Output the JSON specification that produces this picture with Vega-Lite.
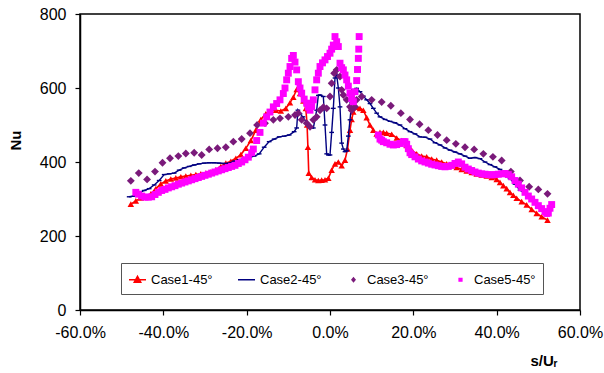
{
  "$schema": "https://vega.github.io/schema/vega-lite/v6.json",
  "width": 500,
  "height": 296,
  "autosize": "none",
  "padding": {"left": 80, "top": 14, "right": 24, "bottom": 63},
  "background": "white",
  "config": {
    "view": {"stroke": "#000000", "strokeWidth": 1.5},
    "font": "Liberation Sans",
    "axis": {
      "grid": false,
      "domainColor": "#000000",
      "domainWidth": 1.5,
      "tickColor": "#000000",
      "tickWidth": 1.2,
      "tickSize": 5,
      "labelFlush": false,
      "labelOverlap": false,
      "labelFont": "Liberation Sans",
      "labelFontSize": 16,
      "labelColor": "#000000",
      "titleFont": "Liberation Sans",
      "titleFontSize": 15,
      "titleFontWeight": "bold",
      "titleColor": "#000000"
    }
  },
  "datasets": {
    "d": [
      {"s":"Case1-45°","x":-47.8,"y":286},{"s":"Case1-45°","x":-46.6,"y":295},{"s":"Case1-45°","x":-45.4,"y":303},{"s":"Case1-45°","x":-44.2,"y":306},{"s":"Case1-45°","x":-43,"y":314},{"s":"Case1-45°","x":-41.8,"y":328},{"s":"Case1-45°","x":-40.6,"y":341},{"s":"Case1-45°","x":-39.4,"y":349},{"s":"Case1-45°","x":-38.2,"y":354},{"s":"Case1-45°","x":-37,"y":357},{"s":"Case1-45°","x":-35.8,"y":360},{"s":"Case1-45°","x":-34.6,"y":362},{"s":"Case1-45°","x":-33.4,"y":364},{"s":"Case1-45°","x":-32.2,"y":366},{"s":"Case1-45°","x":-31,"y":368},{"s":"Case1-45°","x":-29.8,"y":370},{"s":"Case1-45°","x":-28.6,"y":373},{"s":"Case1-45°","x":-27.4,"y":379},{"s":"Case1-45°","x":-26.2,"y":388},{"s":"Case1-45°","x":-25,"y":397},{"s":"Case1-45°","x":-23.8,"y":402},{"s":"Case1-45°","x":-22.6,"y":410},{"s":"Case1-45°","x":-21.4,"y":420},{"s":"Case1-45°","x":-20.2,"y":437},{"s":"Case1-45°","x":-19,"y":458},{"s":"Case1-45°","x":-17.8,"y":486},{"s":"Case1-45°","x":-16.6,"y":515},{"s":"Case1-45°","x":-15.4,"y":530},{"s":"Case1-45°","x":-14.2,"y":540},{"s":"Case1-45°","x":-13,"y":540},{"s":"Case1-45°","x":-11.8,"y":538},{"s":"Case1-45°","x":-10.6,"y":545},{"s":"Case1-45°","x":-9.6,"y":560},{"s":"Case1-45°","x":-8.8,"y":575},{"s":"Case1-45°","x":-8,"y":596},{"s":"Case1-45°","x":-7.2,"y":585},{"s":"Case1-45°","x":-6.4,"y":565},{"s":"Case1-45°","x":-5.8,"y":545},{"s":"Case1-45°","x":-5.5,"y":500},{"s":"Case1-45°","x":-5.3,"y":440},{"s":"Case1-45°","x":-5.1,"y":370},{"s":"Case1-45°","x":-4.4,"y":358},{"s":"Case1-45°","x":-3.6,"y":352},{"s":"Case1-45°","x":-2.8,"y":350},{"s":"Case1-45°","x":-2,"y":351},{"s":"Case1-45°","x":-1.2,"y":352},{"s":"Case1-45°","x":-0.4,"y":356},{"s":"Case1-45°","x":0.4,"y":378},{"s":"Case1-45°","x":1.2,"y":395},{"s":"Case1-45°","x":2,"y":400},{"s":"Case1-45°","x":2.8,"y":390},{"s":"Case1-45°","x":3.6,"y":405},{"s":"Case1-45°","x":4.2,"y":435},{"s":"Case1-45°","x":4.8,"y":486},{"s":"Case1-45°","x":5.2,"y":515},{"s":"Case1-45°","x":5.6,"y":535},{"s":"Case1-45°","x":6.4,"y":548},{"s":"Case1-45°","x":7.2,"y":545},{"s":"Case1-45°","x":8,"y":540},{"s":"Case1-45°","x":8.8,"y":520},{"s":"Case1-45°","x":9.6,"y":500},{"s":"Case1-45°","x":10.4,"y":486},{"s":"Case1-45°","x":11.2,"y":476},{"s":"Case1-45°","x":12,"y":480},{"s":"Case1-45°","x":12.8,"y":480},{"s":"Case1-45°","x":13.6,"y":478},{"s":"Case1-45°","x":14.8,"y":475},{"s":"Case1-45°","x":16,"y":465},{"s":"Case1-45°","x":17.2,"y":458},{"s":"Case1-45°","x":18.4,"y":445},{"s":"Case1-45°","x":19.6,"y":432},{"s":"Case1-45°","x":20.8,"y":422},{"s":"Case1-45°","x":22,"y":416},{"s":"Case1-45°","x":23.2,"y":414},{"s":"Case1-45°","x":24.4,"y":408},{"s":"Case1-45°","x":25.6,"y":405},{"s":"Case1-45°","x":26.8,"y":400},{"s":"Case1-45°","x":28,"y":395},{"s":"Case1-45°","x":29.2,"y":390},{"s":"Case1-45°","x":30.4,"y":385},{"s":"Case1-45°","x":31.6,"y":380},{"s":"Case1-45°","x":32.8,"y":376},{"s":"Case1-45°","x":34,"y":372},{"s":"Case1-45°","x":35.2,"y":368},{"s":"Case1-45°","x":36.4,"y":365},{"s":"Case1-45°","x":37.6,"y":362},{"s":"Case1-45°","x":38.8,"y":358},{"s":"Case1-45°","x":40,"y":353},{"s":"Case1-45°","x":40.8,"y":345},{"s":"Case1-45°","x":41.6,"y":336},{"s":"Case1-45°","x":42.4,"y":328},{"s":"Case1-45°","x":43.2,"y":318},{"s":"Case1-45°","x":44,"y":310},{"s":"Case1-45°","x":44.8,"y":302},{"s":"Case1-45°","x":46,"y":293},{"s":"Case1-45°","x":47.2,"y":284},{"s":"Case1-45°","x":48.4,"y":272},{"s":"Case1-45°","x":49.6,"y":261},{"s":"Case1-45°","x":50.8,"y":252},{"s":"Case1-45°","x":52.2,"y":243},

      {"s":"Case2-45°","x":-48.2,"y":306},{"s":"Case2-45°","x":-47,"y":308},{"s":"Case2-45°","x":-45.8,"y":316},{"s":"Case2-45°","x":-44.6,"y":323},{"s":"Case2-45°","x":-43.4,"y":328},{"s":"Case2-45°","x":-42.2,"y":338},{"s":"Case2-45°","x":-41,"y":350},{"s":"Case2-45°","x":-39.8,"y":366},{"s":"Case2-45°","x":-38.6,"y":368},{"s":"Case2-45°","x":-37.4,"y":370},{"s":"Case2-45°","x":-36.2,"y":378},{"s":"Case2-45°","x":-35,"y":384},{"s":"Case2-45°","x":-33.8,"y":388},{"s":"Case2-45°","x":-32.6,"y":392},{"s":"Case2-45°","x":-31.4,"y":395},{"s":"Case2-45°","x":-30.2,"y":397},{"s":"Case2-45°","x":-29,"y":398},{"s":"Case2-45°","x":-27.8,"y":398},{"s":"Case2-45°","x":-26.6,"y":397},{"s":"Case2-45°","x":-25.4,"y":396},{"s":"Case2-45°","x":-24.2,"y":397},{"s":"Case2-45°","x":-23,"y":402},{"s":"Case2-45°","x":-21.8,"y":406},{"s":"Case2-45°","x":-20.6,"y":409},{"s":"Case2-45°","x":-19.4,"y":412},{"s":"Case2-45°","x":-18.2,"y":416},{"s":"Case2-45°","x":-17,"y":422},{"s":"Case2-45°","x":-15.8,"y":440},{"s":"Case2-45°","x":-14.6,"y":455},{"s":"Case2-45°","x":-13.4,"y":462},{"s":"Case2-45°","x":-12.2,"y":468},{"s":"Case2-45°","x":-11,"y":470},{"s":"Case2-45°","x":-9.8,"y":473},{"s":"Case2-45°","x":-8.6,"y":482},{"s":"Case2-45°","x":-8,"y":492},{"s":"Case2-45°","x":-7.7,"y":540},{"s":"Case2-45°","x":-7.2,"y":530},{"s":"Case2-45°","x":-6.5,"y":522},{"s":"Case2-45°","x":-5.6,"y":505},{"s":"Case2-45°","x":-4.8,"y":495},{"s":"Case2-45°","x":-4,"y":492},{"s":"Case2-45°","x":-3.6,"y":515},{"s":"Case2-45°","x":-3.2,"y":540},{"s":"Case2-45°","x":-2.8,"y":580},{"s":"Case2-45°","x":-2.4,"y":581},{"s":"Case2-45°","x":-1.6,"y":577},{"s":"Case2-45°","x":-1.2,"y":500},{"s":"Case2-45°","x":-0.8,"y":422},{"s":"Case2-45°","x":-0.4,"y":419},{"s":"Case2-45°","x":0,"y":419},{"s":"Case2-45°","x":0.4,"y":480},{"s":"Case2-45°","x":0.8,"y":545},{"s":"Case2-45°","x":1.2,"y":627},{"s":"Case2-45°","x":1.6,"y":635},{"s":"Case2-45°","x":2,"y":600},{"s":"Case2-45°","x":2.4,"y":549},{"s":"Case2-45°","x":2.8,"y":451},{"s":"Case2-45°","x":3.2,"y":435},{"s":"Case2-45°","x":3.6,"y":428},{"s":"Case2-45°","x":4,"y":430},{"s":"Case2-45°","x":4.4,"y":470},{"s":"Case2-45°","x":4.8,"y":514},{"s":"Case2-45°","x":5.2,"y":560},{"s":"Case2-45°","x":5.6,"y":595},{"s":"Case2-45°","x":6.4,"y":599},{"s":"Case2-45°","x":7.2,"y":590},{"s":"Case2-45°","x":8,"y":578},{"s":"Case2-45°","x":8.8,"y":568},{"s":"Case2-45°","x":9.6,"y":558},{"s":"Case2-45°","x":10.4,"y":545},{"s":"Case2-45°","x":11.2,"y":532},{"s":"Case2-45°","x":12,"y":522},{"s":"Case2-45°","x":13.2,"y":515},{"s":"Case2-45°","x":14.4,"y":510},{"s":"Case2-45°","x":15.6,"y":506},{"s":"Case2-45°","x":16.8,"y":500},{"s":"Case2-45°","x":18,"y":490},{"s":"Case2-45°","x":19.2,"y":482},{"s":"Case2-45°","x":20.4,"y":476},{"s":"Case2-45°","x":21.6,"y":468},{"s":"Case2-45°","x":22.8,"y":467},{"s":"Case2-45°","x":24,"y":462},{"s":"Case2-45°","x":25.2,"y":452},{"s":"Case2-45°","x":26.4,"y":446},{"s":"Case2-45°","x":27.6,"y":438},{"s":"Case2-45°","x":28.8,"y":432},{"s":"Case2-45°","x":30,"y":427},{"s":"Case2-45°","x":31.2,"y":422},{"s":"Case2-45°","x":32.4,"y":416},{"s":"Case2-45°","x":33.6,"y":410},{"s":"Case2-45°","x":34.8,"y":412},{"s":"Case2-45°","x":36,"y":409},{"s":"Case2-45°","x":37.2,"y":400},{"s":"Case2-45°","x":38.4,"y":393},{"s":"Case2-45°","x":39.6,"y":387},{"s":"Case2-45°","x":40.8,"y":380},{"s":"Case2-45°","x":42,"y":372},{"s":"Case2-45°","x":43.2,"y":355},{"s":"Case2-45°","x":44.4,"y":340},{"s":"Case2-45°","x":45.6,"y":324},{"s":"Case2-45°","x":46.8,"y":315},{"s":"Case2-45°","x":48,"y":305},{"s":"Case2-45°","x":49.2,"y":292},{"s":"Case2-45°","x":50.4,"y":280},{"s":"Case2-45°","x":51.6,"y":266},

      {"s":"Case3-45°","x":-47.8,"y":349},{"s":"Case3-45°","x":-45.9,"y":370},{"s":"Case3-45°","x":-43.9,"y":353},{"s":"Case3-45°","x":-42,"y":374},{"s":"Case3-45°","x":-40.2,"y":398},{"s":"Case3-45°","x":-38.4,"y":410},{"s":"Case3-45°","x":-36.4,"y":416},{"s":"Case3-45°","x":-34.6,"y":423},{"s":"Case3-45°","x":-32.6,"y":425},{"s":"Case3-45°","x":-30.8,"y":419},{"s":"Case3-45°","x":-29,"y":434},{"s":"Case3-45°","x":-27,"y":437},{"s":"Case3-45°","x":-25,"y":440},{"s":"Case3-45°","x":-23.2,"y":455},{"s":"Case3-45°","x":-21.2,"y":462},{"s":"Case3-45°","x":-19.2,"y":478},{"s":"Case3-45°","x":-17.5,"y":500},{"s":"Case3-45°","x":-15.6,"y":505},{"s":"Case3-45°","x":-13.6,"y":514},{"s":"Case3-45°","x":-12,"y":518},{"s":"Case3-45°","x":-10,"y":522},{"s":"Case3-45°","x":-8.4,"y":527},{"s":"Case3-45°","x":-7.6,"y":532},{"s":"Case3-45°","x":-6.8,"y":514},{"s":"Case3-45°","x":-5.6,"y":505},{"s":"Case3-45°","x":-4.8,"y":495},{"s":"Case3-45°","x":-4,"y":514},{"s":"Case3-45°","x":-3.2,"y":522},{"s":"Case3-45°","x":-2.4,"y":540},{"s":"Case3-45°","x":-1.6,"y":548},{"s":"Case3-45°","x":-0.8,"y":545},{"s":"Case3-45°","x":0,"y":577},{"s":"Case3-45°","x":0.4,"y":613},{"s":"Case3-45°","x":1,"y":640},{"s":"Case3-45°","x":1.6,"y":649},{"s":"Case3-45°","x":2.4,"y":631},{"s":"Case3-45°","x":2.8,"y":595},{"s":"Case3-45°","x":3.2,"y":581},{"s":"Case3-45°","x":4,"y":568},{"s":"Case3-45°","x":4.8,"y":549},{"s":"Case3-45°","x":5.2,"y":540},{"s":"Case3-45°","x":6,"y":549},{"s":"Case3-45°","x":6.4,"y":568},{"s":"Case3-45°","x":7.6,"y":577},{"s":"Case3-45°","x":10,"y":568},{"s":"Case3-45°","x":12.4,"y":562},{"s":"Case3-45°","x":14.6,"y":552},{"s":"Case3-45°","x":17,"y":532},{"s":"Case3-45°","x":19.2,"y":515},{"s":"Case3-45°","x":21.5,"y":502},{"s":"Case3-45°","x":23.6,"y":486},{"s":"Case3-45°","x":25.8,"y":473},{"s":"Case3-45°","x":28,"y":459},{"s":"Case3-45°","x":30.2,"y":449},{"s":"Case3-45°","x":32.4,"y":440},{"s":"Case3-45°","x":34.6,"y":434},{"s":"Case3-45°","x":36.8,"y":422},{"s":"Case3-45°","x":39.1,"y":414},{"s":"Case3-45°","x":41.2,"y":404},{"s":"Case3-45°","x":43.4,"y":374},{"s":"Case3-45°","x":45.6,"y":350},{"s":"Case3-45°","x":47.8,"y":333},{"s":"Case3-45°","x":50,"y":326},{"s":"Case3-45°","x":52.2,"y":314},

      {"s":"Case5-45°","x":-46.6,"y":318},{"s":"Case5-45°","x":-46,"y":313},{"s":"Case5-45°","x":-45.2,"y":308},{"s":"Case5-45°","x":-44.4,"y":305},{"s":"Case5-45°","x":-43.6,"y":305},{"s":"Case5-45°","x":-42.8,"y":306},{"s":"Case5-45°","x":-42,"y":312},{"s":"Case5-45°","x":-41.2,"y":318},{"s":"Case5-45°","x":-40.4,"y":323},{"s":"Case5-45°","x":-39.6,"y":326},{"s":"Case5-45°","x":-38.8,"y":330},{"s":"Case5-45°","x":-38,"y":333},{"s":"Case5-45°","x":-37.2,"y":336},{"s":"Case5-45°","x":-36.4,"y":340},{"s":"Case5-45°","x":-35.6,"y":343},{"s":"Case5-45°","x":-34.8,"y":346},{"s":"Case5-45°","x":-34,"y":349},{"s":"Case5-45°","x":-33.2,"y":352},{"s":"Case5-45°","x":-32.4,"y":355},{"s":"Case5-45°","x":-31.6,"y":358},{"s":"Case5-45°","x":-30.8,"y":361},{"s":"Case5-45°","x":-30,"y":364},{"s":"Case5-45°","x":-29.2,"y":367},{"s":"Case5-45°","x":-28.4,"y":370},{"s":"Case5-45°","x":-27.6,"y":373},{"s":"Case5-45°","x":-26.8,"y":376},{"s":"Case5-45°","x":-26,"y":379},{"s":"Case5-45°","x":-25.2,"y":382},{"s":"Case5-45°","x":-24.4,"y":385},{"s":"Case5-45°","x":-23.6,"y":388},{"s":"Case5-45°","x":-22.8,"y":391},{"s":"Case5-45°","x":-22,"y":396},{"s":"Case5-45°","x":-21.2,"y":400},{"s":"Case5-45°","x":-20.4,"y":406},{"s":"Case5-45°","x":-19.6,"y":413},{"s":"Case5-45°","x":-18.8,"y":425},{"s":"Case5-45°","x":-18.4,"y":435},{"s":"Case5-45°","x":-17.6,"y":458},{"s":"Case5-45°","x":-16.8,"y":480},{"s":"Case5-45°","x":-16,"y":505},{"s":"Case5-45°","x":-15.2,"y":522},{"s":"Case5-45°","x":-14.4,"y":535},{"s":"Case5-45°","x":-13.6,"y":549},{"s":"Case5-45°","x":-12.8,"y":558},{"s":"Case5-45°","x":-12,"y":568},{"s":"Case5-45°","x":-11.2,"y":585},{"s":"Case5-45°","x":-10.8,"y":600},{"s":"Case5-45°","x":-10.4,"y":622},{"s":"Case5-45°","x":-10,"y":640},{"s":"Case5-45°","x":-9.6,"y":658},{"s":"Case5-45°","x":-9.2,"y":680},{"s":"Case5-45°","x":-8.8,"y":688},{"s":"Case5-45°","x":-8.4,"y":670},{"s":"Case5-45°","x":-8,"y":649},{"s":"Case5-45°","x":-7.6,"y":617},{"s":"Case5-45°","x":-7.2,"y":600},{"s":"Case5-45°","x":-6.8,"y":586},{"s":"Case5-45°","x":-6.2,"y":570},{"s":"Case5-45°","x":-5.6,"y":559},{"s":"Case5-45°","x":-5.2,"y":548},{"s":"Case5-45°","x":-4.8,"y":540},{"s":"Case5-45°","x":-4.4,"y":550},{"s":"Case5-45°","x":-4,"y":568},{"s":"Case5-45°","x":-3.6,"y":595},{"s":"Case5-45°","x":-3.2,"y":622},{"s":"Case5-45°","x":-2.8,"y":640},{"s":"Case5-45°","x":-2.4,"y":658},{"s":"Case5-45°","x":-1.8,"y":668},{"s":"Case5-45°","x":-1.2,"y":676},{"s":"Case5-45°","x":-0.6,"y":685},{"s":"Case5-45°","x":0,"y":694},{"s":"Case5-45°","x":0.4,"y":705},{"s":"Case5-45°","x":0.8,"y":716},{"s":"Case5-45°","x":1.2,"y":739},{"s":"Case5-45°","x":1.6,"y":725},{"s":"Case5-45°","x":2,"y":712},{"s":"Case5-45°","x":2.4,"y":667},{"s":"Case5-45°","x":2.8,"y":655},{"s":"Case5-45°","x":3.2,"y":649},{"s":"Case5-45°","x":3.6,"y":635},{"s":"Case5-45°","x":4,"y":622},{"s":"Case5-45°","x":4.4,"y":605},{"s":"Case5-45°","x":4.8,"y":586},{"s":"Case5-45°","x":5.2,"y":572},{"s":"Case5-45°","x":5.6,"y":563},{"s":"Case5-45°","x":6,"y":590},{"s":"Case5-45°","x":6.4,"y":620},{"s":"Case5-45°","x":6.6,"y":650},{"s":"Case5-45°","x":6.8,"y":680},{"s":"Case5-45°","x":6.9,"y":705},{"s":"Case5-45°","x":7,"y":739},{"s":"Case5-45°","x":11.6,"y":473},{"s":"Case5-45°","x":12,"y":462},{"s":"Case5-45°","x":12.4,"y":459},{"s":"Case5-45°","x":12.8,"y":455},{"s":"Case5-45°","x":13.6,"y":452},{"s":"Case5-45°","x":14.4,"y":448},{"s":"Case5-45°","x":15.2,"y":446},{"s":"Case5-45°","x":16,"y":447},{"s":"Case5-45°","x":16.8,"y":450},{"s":"Case5-45°","x":17.6,"y":455},{"s":"Case5-45°","x":18,"y":455},{"s":"Case5-45°","x":18.4,"y":448},{"s":"Case5-45°","x":18.8,"y":436},{"s":"Case5-45°","x":19.2,"y":425},{"s":"Case5-45°","x":19.6,"y":420},{"s":"Case5-45°","x":20.4,"y":414},{"s":"Case5-45°","x":21.2,"y":408},{"s":"Case5-45°","x":22,"y":403},{"s":"Case5-45°","x":22.8,"y":400},{"s":"Case5-45°","x":23.6,"y":397},{"s":"Case5-45°","x":24.4,"y":394},{"s":"Case5-45°","x":25.2,"y":392},{"s":"Case5-45°","x":26,"y":390},{"s":"Case5-45°","x":26.8,"y":388},{"s":"Case5-45°","x":27.6,"y":387},{"s":"Case5-45°","x":28.4,"y":388},{"s":"Case5-45°","x":29.2,"y":391},{"s":"Case5-45°","x":30,"y":396},{"s":"Case5-45°","x":30.8,"y":400},{"s":"Case5-45°","x":31.6,"y":395},{"s":"Case5-45°","x":32.4,"y":386},{"s":"Case5-45°","x":33.2,"y":381},{"s":"Case5-45°","x":34,"y":377},{"s":"Case5-45°","x":34.8,"y":373},{"s":"Case5-45°","x":35.6,"y":370},{"s":"Case5-45°","x":36.4,"y":368},{"s":"Case5-45°","x":37.2,"y":367},{"s":"Case5-45°","x":38,"y":366},{"s":"Case5-45°","x":38.8,"y":365},{"s":"Case5-45°","x":39.6,"y":366},{"s":"Case5-45°","x":40.4,"y":367},{"s":"Case5-45°","x":41.2,"y":368},{"s":"Case5-45°","x":42,"y":369},{"s":"Case5-45°","x":42.8,"y":366},{"s":"Case5-45°","x":43.6,"y":360},{"s":"Case5-45°","x":44.4,"y":350},{"s":"Case5-45°","x":45.2,"y":340},{"s":"Case5-45°","x":46,"y":330},{"s":"Case5-45°","x":46.8,"y":318},{"s":"Case5-45°","x":47.6,"y":308},{"s":"Case5-45°","x":48.4,"y":300},{"s":"Case5-45°","x":49.2,"y":291},{"s":"Case5-45°","x":50,"y":282},{"s":"Case5-45°","x":50.8,"y":274},{"s":"Case5-45°","x":51.6,"y":266},{"s":"Case5-45°","x":52,"y":261},{"s":"Case5-45°","x":52.4,"y":262},{"s":"Case5-45°","x":52.8,"y":275},{"s":"Case5-45°","x":53.2,"y":285}
    ]
  },
  "data": {"name": "d"},
  "encoding": {
    "x": {
      "field": "x", "type": "quantitative",
      "scale": {"domain": [-60, 60], "nice": false, "zero": false},
      "axis": {
        "values": [-60, -40, -20, 0, 20, 40, 60],
        "labelExpr": "(datum.value < 0 ? '-' : '') + format(abs(datum.value) / 100, '.1%')",
        "labelPadding": 9,
        "title": "s/Uᵣ",
        "titleX": 477,
        "titleY": 55,
        "titleAlign": "right",
        "titleBaseline": "alphabetic",
        "titleAnchor": null
      }
    },
    "y": {
      "field": "y", "type": "quantitative",
      "scale": {"domain": [0, 800], "nice": false},
      "axis": {
        "values": [0, 200, 400, 600, 800],
        "labelPadding": 9,
        "title": "Nu",
        "titleX": -65,
        "titleY": 126,
        "titleAlign": "center",
        "titleBaseline": "middle",
        "titleAnchor": null
      }
    }
  },
  "layer": [
    {
      "transform": [{"filter": "datum.s === 'Case1-45°'"}],
      "mark": {"type": "line", "strokeWidth": 1.6},
      "encoding": {
        "color": {
          "field": "s", "type": "nominal",
          "scale": {"domain": ["Case1-45°", "Case2-45°", "Case3-45°", "Case5-45°"], "range": ["#FF0000", "#000080", "#7A1A7A", "#FF00FF"]},
          "legend": {
            "title": null,
            "orient": "none",
            "legendX": 41,
            "legendY": 249,
            "direction": "horizontal",
            "columns": 4,
            "strokeColor": "#555555",
            "fillColor": "#FFFFFF",
            "padding": 7,
            "columnPadding": 22,
            "labelOffset": 4,
            "labelFont": "Liberation Sans",
            "labelFontSize": 13,
            "labelColor": "#000000",
            "symbolSize": 289,
            "symbolType": "circle",
            "encode": {
              "symbols": {
                "update": {
                  "shape": {"signal": "datum.value === 'Case1-45°' ? 'M-1,0H1M0,-0.4L0.38,0.28L-0.38,0.28Z' : datum.value === 'Case2-45°' ? 'M-1,0H1' : datum.value === 'Case3-45°' ? 'M0,-0.22L0.18,0L0,0.22L-0.18,0Z' : 'M-0.16,-0.16H0.16V0.16H-0.16Z'"},
                  "fill": {"scale": "color", "field": "value"},
                  "stroke": {"scale": "color", "field": "value"},
                  "strokeWidth": {"value": 1.5},
                  "opacity": {"value": 1},
                  "fillOpacity": {"value": 1}
                }
              }
            }
          }
        }
      }
    },
    {
      "transform": [{"filter": "datum.s === 'Case1-45°'"}],
      "mark": {"type": "point", "shape": "triangle-up", "filled": true, "size": 42, "color": "#FF0000", "opacity": 1}
    },
    {
      "transform": [{"filter": "datum.s === 'Case2-45°'"}],
      "mark": {"type": "line", "strokeWidth": 1.4},
      "encoding": {
        "color": {"field": "s", "type": "nominal"}
      }
    },
    {
      "transform": [{"filter": "datum.s === 'Case2-45°'"}],
      "mark": {"type": "point", "shape": "M-1,0H1", "filled": false, "size": 22, "stroke": "#000080", "strokeWidth": 1.4, "opacity": 1}
    },
    {
      "transform": [{"filter": "datum.s === 'Case3-45°'"}],
      "mark": {"type": "point", "shape": "diamond", "filled": true, "size": 62, "color": "#7A1A7A", "opacity": 1}
    },
    {
      "transform": [{"filter": "datum.s === 'Case5-45°'"}],
      "mark": {"type": "point", "shape": "square", "filled": true, "size": 48, "color": "#FF00FF", "opacity": 1}
    }
  ]
}
